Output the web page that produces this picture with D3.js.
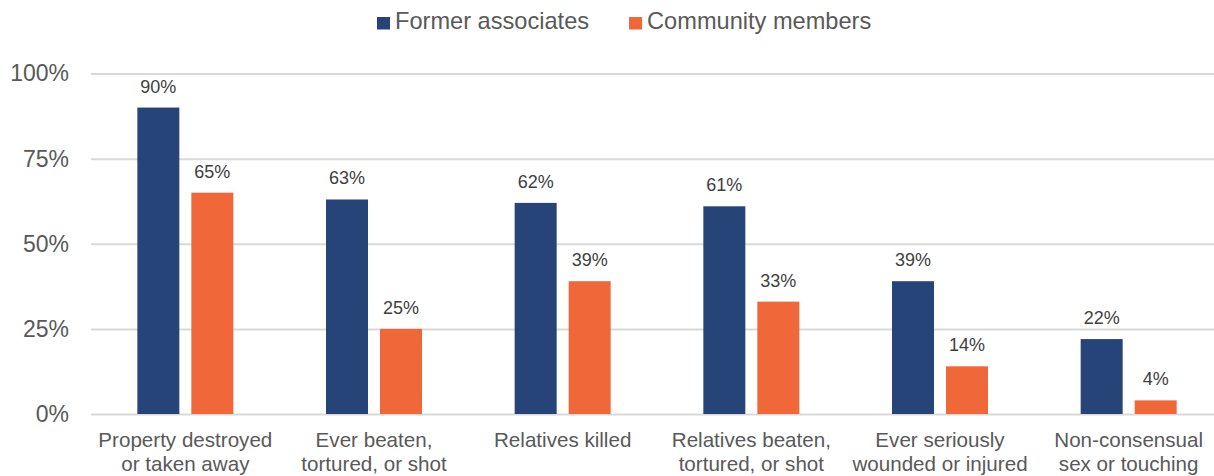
<!DOCTYPE html>
<html>
<head>
<meta charset="utf-8">
<script src="https://cdn.jsdelivr.net/npm/d3@7"></script>
<style>
  html, body { margin: 0; padding: 0; background: #fff; }
  svg { display: block; font-family: "Liberation Sans", Arial, sans-serif; }
</style>
</head>
<body>
<svg id="chart" width="1214" height="476"></svg>
<script>
// Categories (line-broken as shown under the axis)
const categories = [
  ["Property destroyed", "or taken away"],
  ["Ever beaten,", "tortured, or shot"],
  ["Relatives killed"],
  ["Relatives beaten,", "tortured, or shot"],
  ["Ever seriously", "wounded or injured"],
  ["Non-consensual", "sex or touching"]
];
const seriesNames = ["Former associates", "Community members"];
const formerAssociates = [90, 63, 62, 61, 39, 22];
const communityMembers = [65, 25, 39, 33, 14, 4];
const yTicks = [0, 25, 50, 75, 100];

const colors = { "Former associates": "#264478", "Community members": "#F0673A" };
const textColor = "#595959";
const gridColor = "#D9D9D9";

const svg = d3.select("#chart");
const keys = categories.map(c => c.join(" "));
const values = { "Former associates": formerAssociates, "Community members": communityMembers };

const margin = { left: 91, right: 1223, top: 73.5, bottom: 414 };

const x0 = d3.scaleBand().domain(keys).range([margin.left, margin.right]).padding(0);
const x1 = d3.scaleBand().domain(seriesNames).range([0, 96]).paddingInner(0.2222).paddingOuter(0);
const y = d3.scaleLinear().domain([0, 100]).range([margin.bottom, margin.top]);

// Gridlines and y-axis labels
const yAxis = d3.axisLeft(y).tickValues(yTicks).tickFormat(d => d + "%")
  .tickSize(-(margin.right - margin.left)).tickPadding(22);
const gy = svg.append("g").attr("transform", `translate(${margin.left},0)`).call(yAxis);
gy.select(".domain").remove();
gy.selectAll(".tick line").attr("stroke", gridColor).attr("stroke-width", 2);
gy.selectAll(".tick text").attr("fill", textColor).attr("font-size", 23)
  .attr("font-family", "Liberation Sans, Arial, sans-serif");

// Bars
const groups = svg.append("g").selectAll("g").data(keys).join("g")
  .attr("transform", k => `translate(${x0(k) + x0.bandwidth() / 2 - 48},0)`);

groups.selectAll("rect")
  .data((k, i) => seriesNames.map(s => ({ s, v: values[s][i] })))
  .join("rect")
  .attr("x", d => x1(d.s))
  .attr("width", x1.bandwidth())
  .attr("y", d => y(d.v))
  .attr("height", d => y(0) - y(d.v))
  .attr("fill", d => colors[d.s]);

// Value labels
groups.selectAll("text")
  .data((k, i) => seriesNames.map(s => ({ s, v: values[s][i] })))
  .join("text")
  .attr("x", d => x1(d.s) + x1.bandwidth() / 2)
  .attr("y", d => y(d.v) - 15)
  .attr("text-anchor", "middle")
  .attr("fill", "#404040")
  .attr("font-size", 18)
  .text(d => d.v + "%");

// Category labels
const xLabels = svg.append("g").selectAll("text").data(categories).join("text")
  .attr("text-anchor", "middle")
  .attr("fill", textColor)
  .attr("font-size", 20.6)
  .attr("transform", (c, i) => `translate(${x0(keys[i]) + x0.bandwidth() / 2},447)`);
xLabels.selectAll("tspan").data(c => c).join("tspan")
  .attr("x", 0)
  .attr("dy", (d, i) => i === 0 ? 0 : 23.5)
  .text(d => d);

// Legend
const legend = svg.append("g");
let lx = 377;
seriesNames.forEach(s => {
  legend.append("rect").attr("x", lx).attr("y", 17).attr("width", 13).attr("height", 12.5)
    .attr("fill", colors[s]);
  const t = legend.append("text").attr("x", lx + 18).attr("y", 29.3)
    .attr("fill", textColor).attr("font-size", 23.6).text(s);
  lx += 18 + t.node().getComputedTextLength() + 40;
});
</script>
</body>
</html>
